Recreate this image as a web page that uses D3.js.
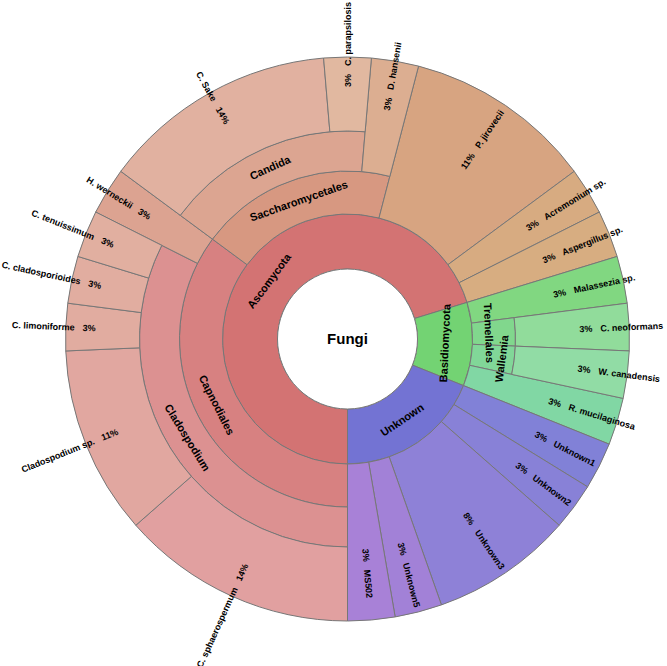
<!DOCTYPE html>
<html>
<head>
<meta charset="utf-8">
<script src="https://cdn.jsdelivr.net/npm/d3@7/dist/d3.min.js"></script>
<style>
    body { margin: 0; background: #fff; }
    text { font-family: "Liberation Sans", Arial, sans-serif; fill: #000; }
</style>
</head>
<body>
<div id="sunburst"></div>
<script>
// taxa in drawing order (clockwise from the bottom), with parent and read count
var taxonNames = [
    "Fungi",
    "Ascomycota", "Basidiomycota", "Unknown",
    "Capnodiales", "Saccharomycetales", "P. jirovecii", "Acremonium sp.", "Aspergillus sp.",
    "Cladospodium", "H. werneckii",
    "C. sphaerospermum", "Cladospodium sp.", "C. limoniforme", "C. cladosporioides", "C. tenuissimum",
    "Candida", "D. hansenii",
    "C. Sake", "C. parapsilosis",
    "Malassezia sp.", "Tremellales", "Wallemia", "R. mucilaginosa",
    "C. neoformans", "W. canadensis",
    "Unknown1", "Unknown2", "Unknown3", "Unknown5", "MS502"
];
var taxonParents = [
    "",
    "Fungi", "Fungi", "Fungi",
    "Ascomycota", "Ascomycota", "Ascomycota", "Ascomycota", "Ascomycota",
    "Capnodiales", "Capnodiales",
    "Cladospodium", "Cladospodium", "Cladospodium", "Cladospodium", "Cladospodium",
    "Saccharomycetales", "Saccharomycetales",
    "Candida", "Candida",
    "Basidiomycota", "Basidiomycota", "Basidiomycota", "Basidiomycota",
    "Tremellales", "Wallemia",
    "Unknown", "Unknown", "Unknown", "Unknown", "Unknown"
];
var taxonReads = [
    0,
    0, 0, 0,
    0, 0, 4, 1, 1,
    0, 1,
    5, 4, 1, 1, 1,
    0, 1,
    5, 1,
    1, 0, 0, 1,
    1, 1,
    1, 1, 3, 1, 1
];

function init() {
    var data = taxonNames.map(function (n, i) {
        return { name: n, parent: taxonParents[i], reads: taxonReads[i] };
    });

    var root = d3.stratify()
        .id(function (d) { return d.name; })
        .parentId(function (d) { return d.parent || null; })(data)
        .sum(function (d) { return d.reads; });

    d3.partition().size([2 * Math.PI, 1])(root);

    sunburst(root);
}

function sunburst(root) {
    var w = 667;
    var h = 666;
    var cx = 347.5, cy = 339;

    // ring edges by depth; leaves run out to the last one
    var ring = d3.scaleLinear()
        .domain([0, 1, 2, 3, 4])
        .range([70, 125, 168, 208, 282]);

    // start at the bottom and go clockwise
    var angle = d3.scaleLinear()
        .domain([0, 2 * Math.PI])
        .range([Math.PI, 3 * Math.PI]);

    var svg = d3.select("#sunburst")
        .append("svg")
        .attr("width", w)
        .attr("height", h)
        .append("g")
        .attr("transform", "translate(" + cx + "," + cy + ")");

    var arc = d3.arc()
        .startAngle(function (d) { return angle(d.x0); })
        .endAngle(function (d) { return angle(d.x1); })
        .innerRadius(function (d) { return ring(d.depth - 1); })
        .outerRadius(function (d) { return d.children ? ring(d.depth) : ring(4); });

    // Krona-like colour: hue per phylum, drifting with position, lighter further out
    var lightness = [0.6, 0.64, 0.675, 0.715, 0.755];
    function colour(d) {
        var top = d.ancestors().find(function (a) { return a.depth === 1; });
        var k = root.children.indexOf(top);
        var frac = (d.x0 - top.x0) / (top.x1 - top.x0);
        var hue = k * 360 / root.children.length + 32 * frac;
        return d3.hsl(hue, 0.52, lightness[d.depth]).toString();
    }

    svg.selectAll("path.node")
        .data(root.descendants().filter(function (d) { return d.depth > 0; }))
        .enter()
        .append("path")
        .attr("class", "node")
        .attr("d", arc)
        .style("fill", colour)
        .style("stroke", "#777")
        .style("stroke-width", 1);

    svg.append("circle")
        .attr("r", ring(0))
        .style("fill", "#fff")
        .style("stroke", "#777")
        .style("stroke-width", 1);

    svg.append("text")
        .attr("text-anchor", "middle")
        .attr("dy", "0.35em")
        .style("font-size", "15px")
        .style("font-weight", "bold")
        .text(root.id);

    function degrees(d) {
        var a = angle((d.x0 + d.x1) / 2) * 180 / Math.PI;
        a = ((a % 360) + 360) % 360;
        if (a > 359.99) a = 0;
        return a;
    }

    // inner nodes: tangential labels in the middle of the ring
    root.descendants().filter(function (d) { return d.depth > 0 && d.children; })
        .forEach(function (d) {
            var deg = degrees(d);
            var r = (ring(d.depth - 1) + ring(d.depth)) / 2;
            var t = svg.append("text")
                .attr("text-anchor", "middle")
                .attr("dy", "0.35em")
                .style("font-size", "11px")
                .style("font-weight", "bold")
                .text(d.id);
            // stagger labels that are far wider than their slice
            var arcLen = r * (d.x1 - d.x0);
            if (arcLen < t.node().getComputedTextLength() * 0.75) {
                var i = d.parent.children.indexOf(d);
                r += i % 2 ? -5 : 9;
            }
            var a = deg * Math.PI / 180;
            var rot = deg > 90 && deg < 270 ? deg - 180 : deg;
            t.attr("transform", "translate(" + (r * Math.sin(a)) + "," + (-r * Math.cos(a)) + ") rotate(" + rot + ")");
        });

    // leaves: radial labels, percentage inside, name running outward
    root.leaves().forEach(function (d) {
        var deg = degrees(d);
        var mid = (ring(d.depth - 1) + ring(4)) / 2;
        var pctEnd = mid + 20;
        var nameStart = mid + 28;
        var pct = Math.round(d.value / root.value * 100) + "%";
        var left = deg >= 180;

        var g = svg.append("g")
            .attr("transform", "rotate(" + (deg - 90) + ")")
            .style("font-size", "9px")
            .style("font-weight", "bold");

        g.append("text")
            .attr("transform", left ? "rotate(180)" : null)
            .attr("x", left ? -pctEnd : pctEnd)
            .attr("dy", "0.35em")
            .attr("text-anchor", left ? "start" : "end")
            .text(pct);

        g.append("text")
            .attr("transform", left ? "rotate(180)" : null)
            .attr("x", left ? -nameStart : nameStart)
            .attr("dy", "0.35em")
            .attr("text-anchor", left ? "end" : "start")
            .text(d.id);
    });
}

init();
</script>
</body>
</html>
